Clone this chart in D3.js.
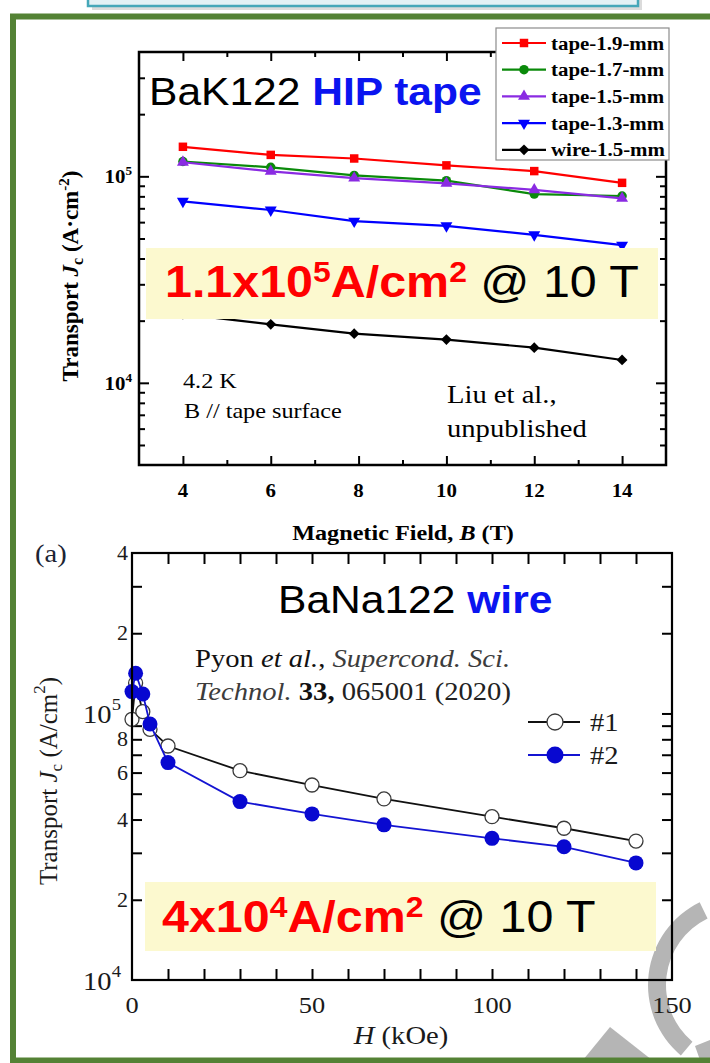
<!DOCTYPE html>
<html>
<head>
<meta charset="utf-8">
<script src="https://cdn.jsdelivr.net/npm/d3@7"></script>
<style>
  html, body { margin: 0; padding: 0; background: #fff; }
  svg { display: block; }
</style>
</head>
<body>
<svg id="fig" width="710" height="1063"></svg>
<script>
// ---- Panel 1: BaK122 HIP tape, transport Jc vs applied field (4.2 K) ----
const fieldT = [4, 6, 7.9, 10, 12, 14];
const tape19 = [1.39e5, 1.27e5, 1.22e5, 1.13e5, 1.06e5, 9.3e4];
const tape17 = [1.18e5, 1.106e5, 1.01e5, 9.53e4, 8.2e4, 8.03e4];
const tape15 = [1.17e5, 1.057e5, 9.8e4, 9.25e4, 8.6e4, 7.82e4];
const tape13 = [7.57e4, 6.87e4, 6.07e4, 5.76e4, 5.21e4, 4.64e4];
const wire15 = [2.15e4, 1.92e4, 1.73e4, 1.62e4, 1.48e4, 1.29e4];
const seriesNames = ["tape-1.9-mm", "tape-1.7-mm", "tape-1.5-mm", "tape-1.3-mm", "wire-1.5-mm"];
const fieldTickLabels = [4, 6, 8, 10, 12, 14];
const fieldMinor = [5, 7, 9, 11, 13];
const jcMajorT = [1e4, 1e5];
const jcMinorT = [5e3, 6e3, 7e3, 8e3, 9e3, 2e4, 3e4, 4e4, 5e4, 6e4, 7e4, 8e4, 9e4, 2e5, 3e5];

// ---- Panel 2: BaNa122 wire, transport Jc vs H ----
const fieldH1 = [0, 1, 3, 5, 10, 30, 50, 70, 100, 120, 140];
const jc1 = [9.51e4, 1.3e5, 1.016e5, 8.72e4, 7.55e4, 6.1e4, 5.39e4, 4.78e4, 4.1e4, 3.71e4, 3.32e4];
const fieldH2 = [0, 1, 3, 5, 10, 30, 50, 70, 100, 120, 140];
const jc2 = [1.208e5, 1.415e5, 1.183e5, 9.13e4, 6.54e4, 4.67e4, 4.2e4, 3.82e4, 3.4e4, 3.16e4, 2.75e4];
const sampleNames = ["#1", "#2"];
const hTickLabels = [0, 50, 100, 150];
const jcTicksB = [2e4, 3e4, 4e4, 5e4, 6e4, 7e4, 8e4, 9e4, 1e5, 2e5, 3e5];
const jcSmallLabels = [[4e5, "4"], [2e5, "2"], [8e4, "8"], [6e4, "6"], [4e4, "4"], [2e4, "2"]];
const jcDecadeLabels = [[1e5, "5"], [1e4, "4"]];

const SERIF = "'Liberation Serif','Times New Roman',serif";
const SANS = "'Liberation Sans',Arial,sans-serif";
const SX = 1.1;

const svg = d3.select("#fig");
svg.append("rect").attr("width", 710).attr("height", 1063).attr("fill", "#fff");

// text helper: positioned, slightly widened
function label(parent, x, y, size, o = {}) {
  return parent.append("text")
    .attr("transform", `translate(${x},${y})` + (o.rotate ? ` rotate(${o.rotate})` : ` scale(${o.sx ?? SX},1)`))
    .attr("font-family", o.family || SERIF)
    .attr("font-size", size)
    .attr("font-weight", o.weight || "normal")
    .attr("fill", o.fill || "#000")
    .attr("text-anchor", o.anchor || "start");
}
function runs(t, parts) {
  let cur = 0;
  parts.forEach(p => {
    const s = t.append("tspan").text(p.text);
    const shift = p.shift || 0;
    if (shift !== cur) { s.attr("dy", shift - cur); cur = shift; }
    if (p.size) s.attr("font-size", p.size);
    if (p.weight) s.attr("font-weight", p.weight);
    if (p.style) s.attr("font-style", p.style);
    if (p.fill) s.attr("fill", p.fill);
  });
  return t;
}
function tickSet(g, axis, pos, values, len, w) {
  g.append("g").attr("transform", pos)
    .call(axis.tickValues(values).tickSize(-len).tickFormat(() => ""))
    .call(s => s.select(".domain").remove())
    .call(s => s.selectAll("line").attr("stroke", "#000").attr("stroke-width", w));
}

// ---- faint logo shapes in the lower right ----
const wm = svg.append("g").attr("fill", "#b5b5b5");
wm.append("path").attr("transform", "translate(740,985)")
  .attr("d", d3.arc().innerRadius(74).outerRadius(92)
    .startAngle(220 * Math.PI / 180).endAngle(334 * Math.PI / 180)());
wm.append("path").attr("d", "M610,1027L652,1060L583,1060Z");
wm.append("path").attr("d", "M695,1046L710,1040L710,1060L700,1060Z");

// ---- header strip and green frame ----
svg.append("rect").attr("x", 92).attr("y", -20).attr("width", 550).attr("height", 30)
  .attr("fill", "#bdbdbd").attr("opacity", 0.55);
svg.append("rect").attr("x", 88).attr("y", -20).attr("width", 550).attr("height", 26)
  .attr("fill", "#e3f1f5").attr("stroke", "#45a7b9").attr("stroke-width", 2.5);
svg.append("rect").attr("x", 13).attr("y", 16.5).attr("width", 740).attr("height", 1044)
  .attr("fill", "none").attr("stroke", "#548235").attr("stroke-width", 6);

// =================== Panel 1 ===================
const p1 = svg.append("g");
const xT = d3.scaleLinear().domain([3, 15]).range([139, 666]);
const yT = d3.scaleLog().domain([4e3, 4e5]).range([465, 52]);

tickSet(p1, d3.axisBottom(xT), "translate(0,465)", fieldTickLabels, 9, 2);
tickSet(p1, d3.axisBottom(xT), "translate(0,465)", fieldMinor, 5, 2);
tickSet(p1, d3.axisTop(xT), "translate(0,52)", fieldTickLabels, 9, 2);
tickSet(p1, d3.axisTop(xT), "translate(0,52)", fieldMinor, 5, 2);
tickSet(p1, d3.axisLeft(yT), "translate(139,0)", jcMajorT, 10, 2);
tickSet(p1, d3.axisLeft(yT), "translate(139,0)", jcMinorT, 6, 2);
tickSet(p1, d3.axisRight(yT), "translate(666,0)", jcMajorT, 10, 2);
tickSet(p1, d3.axisRight(yT), "translate(666,0)", jcMinorT, 6, 2);

const tapeSeries = [
  { name: seriesNames[0], values: tape19, color: "#ff0000", sym: d3.symbolSquare, size: 72, rot: 0 },
  { name: seriesNames[1], values: tape17, color: "#0a8a0a", sym: d3.symbolCircle, size: 70, rot: 0 },
  { name: seriesNames[2], values: tape15, color: "#8a2be2", sym: d3.symbolTriangle, size: 62, rot: 0 },
  { name: seriesNames[3], values: tape13, color: "#0000ff", sym: d3.symbolTriangle, size: 62, rot: 180 },
  { name: seriesNames[4], values: wire15, color: "#000000", sym: d3.symbolSquare, size: 58, rot: 45 }
];
const lineT = d3.line().x((d, i) => xT(fieldT[i])).y(d => yT(d));
tapeSeries.forEach(s => {
  const g = p1.append("g");
  g.append("path").attr("d", lineT(s.values)).attr("fill", "none")
    .attr("stroke", s.color).attr("stroke-width", 2.2);
  g.selectAll("path.m").data(s.values).join("path").attr("class", "m")
    .attr("d", d3.symbol(s.sym, s.size)())
    .attr("transform", (d, i) => `translate(${xT(fieldT[i])},${yT(d)}) rotate(${s.rot})`)
    .attr("fill", s.color);
});

// highlight box
p1.append("rect").attr("x", 146).attr("y", 248).attr("width", 512).attr("height", 71).attr("fill", "#fcf9cf");
runs(label(p1, 165, 297, 44, { family: SANS, weight: "bold", fill: "#ff0000" }), [
  { text: "1.1x10" }, { text: "5", size: 29, shift: -15 }, { text: "A/cm" },
  { text: "2", size: 29, shift: -15 }, { text: " @ 10 T", weight: "normal", fill: "#000" }
]);

p1.append("rect").attr("x", 139).attr("y", 52).attr("width", 527).attr("height", 413)
  .attr("fill", "none").attr("stroke", "#000").attr("stroke-width", 2.5);

// title
runs(label(p1, 149, 105, 38, { family: SANS, sx: 1.12 }), [
  { text: "BaK122 " }, { text: "HIP tape", weight: "bold", fill: "#0a14f0" }
]);

// annotations
label(p1, 183, 388, 22).text("4.2 K");
label(p1, 184, 418, 22).text("B // tape surface");
label(p1, 447, 403, 26).text("Liu et al.,");
label(p1, 447, 437, 26).text("unpublished");

// legend
const lg = p1.append("g");
lg.append("rect").attr("x", 496).attr("y", 28).attr("width", 173).attr("height", 132)
  .attr("fill", "#fff").attr("stroke", "#8c8c8c").attr("stroke-width", 1.2);
tapeSeries.forEach((s, i) => {
  const y = 43 + i * 26.7;
  lg.append("line").attr("x1", 502).attr("x2", 546).attr("y1", y).attr("y2", y)
    .attr("stroke", s.color).attr("stroke-width", 2.2);
  lg.append("path").attr("d", d3.symbol(s.sym, s.size)())
    .attr("transform", `translate(524,${y}) rotate(${s.rot})`).attr("fill", s.color);
  label(lg, 551, y + 6.5, 19, { weight: "bold" }).text(s.name);
});

// axis labels
fieldTickLabels.forEach(v => {
  label(p1, xT(v), 497, 19, { weight: "bold", anchor: "middle" }).text(v);
});
[[1e5, "5"], [1e4, "4"]].forEach(([v, e]) => {
  runs(label(p1, 132, yT(v) + 7, 19, { weight: "bold", anchor: "end" }), [
    { text: "10" }, { text: e, size: 12, shift: -8 }
  ]);
});
runs(label(p1, 78, 276, 23, { weight: "bold", anchor: "middle", rotate: -90 }), [
  { text: "Transport " }, { text: "J", style: "italic" }, { text: "c", size: 16, shift: 5 },
  { text: " (A\u00b7cm", shift: 0 }, { text: "-2", size: 15, shift: -9 }, { text: ")", shift: 0 }
]);
runs(label(p1, 403, 540, 22, { weight: "bold", anchor: "middle" }), [
  { text: "Magnetic Field, " }, { text: "B", style: "italic" }, { text: " (T)" }
]);

// =================== Panel 2 ===================
const p2 = svg.append("g");
const xB = d3.scaleLinear().domain([0, 150]).range([132, 672]);
const yB = d3.scaleLog().domain([1e4, 4e5]).range([980, 553]);
const hTicks = xB.ticks(15).filter(v => v > 0 && v < 150);

tickSet(p2, d3.axisBottom(xB), "translate(0,980)", hTicks, 11, 2);
tickSet(p2, d3.axisTop(xB), "translate(0,553)", hTicks, 11, 2);
tickSet(p2, d3.axisLeft(yB), "translate(132,0)", jcTicksB, 10, 2);
tickSet(p2, d3.axisRight(yB), "translate(672,0)", jcTicksB, 10, 2);

const samples = [
  { name: sampleNames[0], h: fieldH1, v: jc1, line: "#111", fill: "#fff", stroke: "#3a3a3a", r: 7 },
  { name: sampleNames[1], h: fieldH2, v: jc2, line: "#1414d2", fill: "#0808d0", stroke: "none", r: 7.5 }
];
samples.forEach(s => {
  const g = p2.append("g");
  const ln = d3.line().x((d, i) => xB(s.h[i])).y(d => yB(d));
  g.append("path").attr("d", ln(s.v)).attr("fill", "none").attr("stroke", s.line).attr("stroke-width", 1.8);
  g.selectAll("circle").data(s.v).join("circle")
    .attr("cx", (d, i) => xB(s.h[i])).attr("cy", d => yB(d)).attr("r", s.r)
    .attr("fill", s.fill).attr("stroke", s.stroke).attr("stroke-width", 1.3);
});

p2.append("rect").attr("x", 145).attr("y", 882).attr("width", 511).attr("height", 69).attr("fill", "#fcf9cf");
runs(label(p2, 162, 932, 44, { family: SANS, weight: "bold", fill: "#ff0000" }), [
  { text: "4x10" }, { text: "4", size: 29, shift: -15 }, { text: "A/cm" },
  { text: "2", size: 29, shift: -15 }, { text: " @ 10 T", weight: "normal", fill: "#000" }
]);

p2.append("rect").attr("x", 132).attr("y", 553).attr("width", 540).attr("height", 427)
  .attr("fill", "none").attr("stroke", "#000").attr("stroke-width", 2.2);

label(p2, 35, 562, 26, { fill: "#1c2433" }).text("(a)");
runs(label(p2, 278, 613, 38, { family: SANS, sx: 1.12 }), [
  { text: "BaNa122 " }, { text: "wire", weight: "bold", fill: "#0a14f0" }
]);
runs(label(p2, 195, 667, 26, { fill: "#111" }), [
  { text: "Pyon " }, { text: "et al.", style: "italic" }, { text: ", " },
  { text: "Supercond. Sci.", style: "italic", fill: "#3c3c3c" }
]);
runs(label(p2, 195, 700, 26, { fill: "#222" }), [
  { text: "Technol.", style: "italic", fill: "#3c3c3c" }, { text: " " },
  { text: "33,", weight: "bold", fill: "#111" }, { text: " 065001 (2020)" }
]);

// legend
samples.forEach((s, i) => {
  const y = 722 + i * 33;
  p2.append("line").attr("x1", 528).attr("x2", 580).attr("y1", y).attr("y2", y)
    .attr("stroke", s.line).attr("stroke-width", 1.8);
  p2.append("circle").attr("cx", 555).attr("cy", y).attr("r", s.r + 1)
    .attr("fill", s.fill).attr("stroke", s.stroke).attr("stroke-width", 1.3);
  label(p2, 590, y + 9, 26, { fill: "#1a1a1a" }).text(s.name);
});

// tick labels
hTickLabels.forEach(v => {
  label(p2, xB(v), 1013, 24, { anchor: "middle", fill: "#1a1a1a" }).text(v);
});
jcSmallLabels.forEach(([v, t]) => {
  label(p2, 128, yB(v) + 7, 20, { anchor: "end", fill: "#1a1a1a" }).text(t);
});
jcDecadeLabels.forEach(([v, e]) => {
  runs(label(p2, 121, yB(v) + 10, 26, { anchor: "end", fill: "#1a1a1a" }), [
    { text: "10" }, { text: e, size: 17, shift: -13 }
  ]);
});
runs(label(p2, 57, 781, 25, { anchor: "middle", rotate: -90, fill: "#1a1a1a" }), [
  { text: "Transport " }, { text: "J", style: "italic" }, { text: "c", size: 17, shift: 5 },
  { text: " (A/cm", shift: 0 }, { text: "2", size: 17, shift: -12 }, { text: ")", shift: 0 }
]);
runs(label(p2, 401, 1044, 26, { anchor: "middle", fill: "#1a1a1a" }), [
  { text: "H", style: "italic" }, { text: " (kOe)" }
]);
</script>
</body>
</html>
